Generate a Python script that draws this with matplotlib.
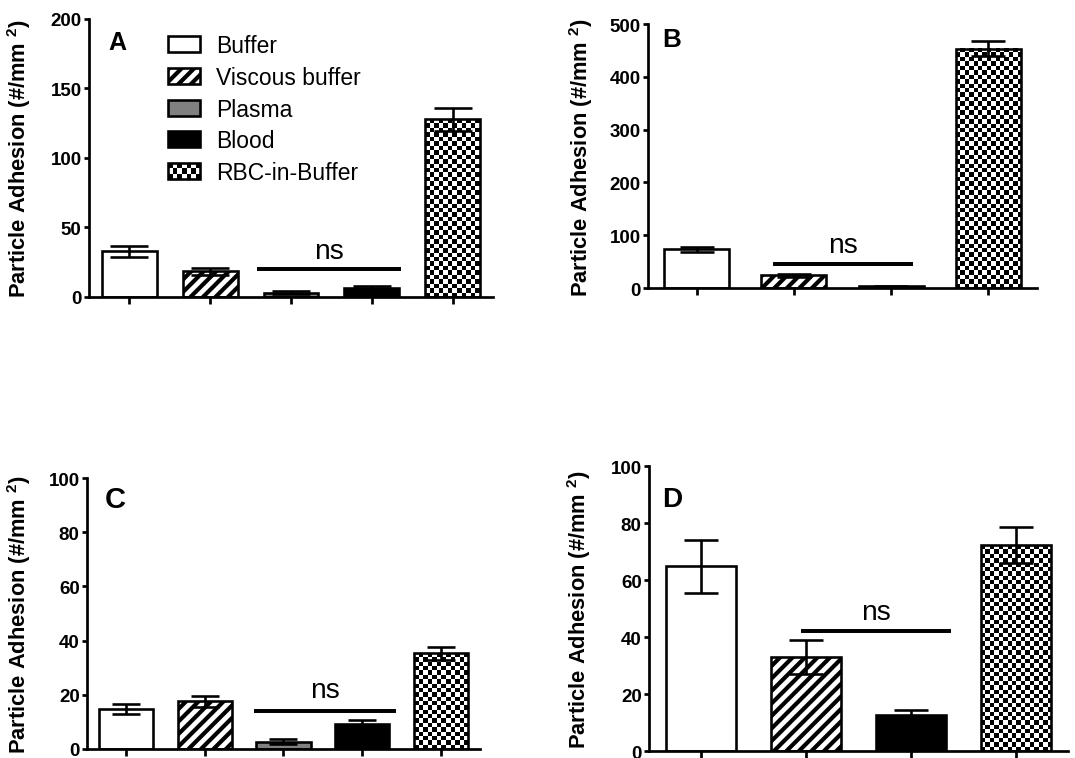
"""
Particle adhesion by carrier fluid, four panels (A-D).
"""

import numpy as np
import matplotlib
matplotlib.use("Agg")
import matplotlib.pyplot as plt
from matplotlib.patches import Rectangle
from matplotlib.legend_handler import HandlerBase

plt.rcParams["font.family"] = ["Liberation Sans", "DejaVu Sans"]
plt.rcParams["mathtext.fontset"] = "custom"
plt.rcParams["mathtext.rm"] = "Liberation Sans"
plt.rcParams["mathtext.default"] = "regular"
plt.rcParams["hatch.linewidth"] = 2.0

# ---- datos ----
groups_5 = ["Buffer", "Viscous buffer", "Plasma", "Blood", "RBC-in-Buffer"]
groups_4 = ["Buffer", "Viscous buffer", "Blood", "RBC-in-Buffer"]

mean_a = [33.0, 18.4, 3.1, 6.5, 127.7]
sem_a = [4.0, 2.4, 1.2, 1.6, 8.0]
yticks_a = [0, 50, 100, 150, 200]
ns_a = (1.58, 3.36, 20.0, 28.0)   # x0, x1, y linea, y texto

mean_b = [73.0, 24.0, 3.0, 453.0]
sem_b = [5.0, 3.0, 1.0, 14.0]
yticks_b = [0, 100, 200, 300, 400, 500]
ns_b = (0.78, 2.22, 45.0, 68.0)

mean_c = [14.8, 17.6, 2.7, 9.2, 35.3]
sem_c = [1.8, 2.0, 1.0, 1.6, 2.3]
yticks_c = [0, 20, 40, 60, 80, 100]
ns_c = (1.63, 3.43, 14.0, 19.0)

mean_d = [64.8, 33.0, 12.5, 72.2]
sem_d = [9.3, 6.0, 2.0, 6.4]
yticks_d = [0, 20, 40, 60, 80, 100]
ns_d = (0.95, 2.38, 42.0, 46.4)

FACE = {"Buffer": "white", "Viscous buffer": "white", "Plasma": "#808080",
        "Blood": "black", "RBC-in-Buffer": "white"}
HATCH = {"Viscous buffer": "////"}
YLABEL = "Particle Adhesion (#/mm $^{2}$)"
LW = 1.25


class CheckerHandler(HandlerBase):
    # tablero para la leyenda
    def create_artists(self, legend, orig_handle, xdescent, ydescent, width, height, fontsize, trans):
        nx, ny = 7, 3
        cw, ch = width / nx, height / ny
        arts = []
        for i in range(nx):
            for j in range(ny):
                if (i + j) % 2 == 0:
                    arts.append(Rectangle((-xdescent + i * cw, -ydescent + j * ch), cw, ch,
                                          facecolor="black", edgecolor="none", transform=trans))
        arts.append(Rectangle((-xdescent, -ydescent), width, height, facecolor="none",
                              edgecolor="black", linewidth=LW, transform=trans))
        return arts


def add_checker(ax, bar, cell_px=4.4):
    x0, y0 = bar.get_x(), bar.get_y()
    w, h = bar.get_width(), bar.get_height()
    p0 = ax.transData.transform((x0, y0))
    p1 = ax.transData.transform((x0 + w, y0 + h))
    nx = max(1, int(round((p1[0] - p0[0]) / cell_px)))
    ny = max(1, int(round((p1[1] - p0[1]) / cell_px)))
    grid = np.add.outer(np.arange(ny), np.arange(nx)) % 2
    ax.imshow(grid, cmap="gray", vmin=0, vmax=1, extent=(x0, x0 + w, y0, y0 + h),
              origin="lower", aspect="auto", interpolation="nearest", zorder=2.5)
    bar.set_facecolor("none")
    bar.set_zorder(3)


def draw_panel(fig, rect, groups, means, sems, yticks, ns, letter, letter_pos, letter_size,
               bar_w, capsize, label_x):
    ax = fig.add_axes(rect)
    x = np.arange(len(groups))
    bars = ax.bar(x, means, width=bar_w, color=[FACE[g] for g in groups],
                  edgecolor="black", linewidth=LW, zorder=2)
    for b, g in zip(bars, groups):
        if g in HATCH:
            b.set_hatch(HATCH[g])
    ax.errorbar(x, means, yerr=sems, fmt="none", ecolor="black", elinewidth=LW,
                capsize=capsize, capthick=LW, zorder=4)

    ax.set_xlim(-0.5, len(groups) - 0.5)
    ax.set_ylim(yticks[0], yticks[-1])
    ax.set_xticks(x)
    ax.set_yticks(yticks)

    for b, g in zip(bars, groups):
        if g == "RBC-in-Buffer":
            add_checker(ax, b)
    ax.set_xlim(-0.5, len(groups) - 0.5)
    ax.set_ylim(yticks[0], yticks[-1])

    for s in ["top", "right"]:
        ax.spines[s].set_visible(False)
    for s in ["left", "bottom"]:
        ax.spines[s].set_linewidth(1.3)
    ax.tick_params(axis="y", direction="out", length=2.5, width=1.3, pad=1, labelsize=9)
    ax.tick_params(axis="x", direction="out", length=3.2, width=1.3, labelbottom=False)
    for lbl in ax.get_yticklabels():
        lbl.set_fontweight("bold")

    ax.set_ylabel(YLABEL, fontsize=10.5, fontweight="bold")
    ax.yaxis.set_label_coords(label_x, 0.5)

    # ns
    x0, x1, y_line, y_txt = ns
    ax.plot([x0, x1], [y_line, y_line], color="black", linewidth=1.9, solid_capstyle="butt", zorder=5)
    ax.text((x0 + x1) / 2, y_txt, "ns", ha="center", va="baseline", fontsize=13.5)

    ax.text(letter_pos[0], letter_pos[1], letter, transform=ax.transAxes, ha="left", va="top",
            fontsize=letter_size, fontweight="bold")
    return ax, bars


fig = plt.figure(figsize=(1075 / 150, 759 / 150), dpi=150)

ax_a, bars_a = draw_panel(fig, [0.0828, 0.6074, 0.3758, 0.3663], groups_5, mean_a, sem_a, yticks_a, ns_a,
                          "A", (0.047, 0.962), 12, 0.68, 8.9, -0.139)
ax_b, bars_b = draw_panel(fig, [0.6028, 0.6192, 0.3619, 0.3478], groups_4, mean_b, sem_b, yticks_b, ns_b,
                          "B", (0.036, 0.989), 12.5, 0.67, 8.0, -0.136)
ax_c, bars_c = draw_panel(fig, [0.0809, 0.0119, 0.3656, 0.3570], groups_5, mean_c, sem_c, yticks_c, ns_c,
                          "C", (0.046, 0.974), 14, 0.69, 6.8, -0.137)
ax_d, bars_d = draw_panel(fig, [0.6037, 0.0092, 0.3898, 0.3755], groups_4, mean_d, sem_d, yticks_d, ns_d,
                          "D", (0.031, 0.930), 13.4, 0.67, 8.2, -0.134)

# leyenda solo en A
ax_a.legend(list(bars_a), groups_5, handler_map={bars_a[4]: CheckerHandler()},
            loc="upper left", bbox_to_anchor=(0.196, 0.945), frameon=False, fontsize=11,
            handlelength=1.4, handleheight=0.68, handletextpad=0.7, labelspacing=0.38,
            borderpad=0, borderaxespad=0)

fig.savefig("out.png", dpi=150)
plt.close(fig)
